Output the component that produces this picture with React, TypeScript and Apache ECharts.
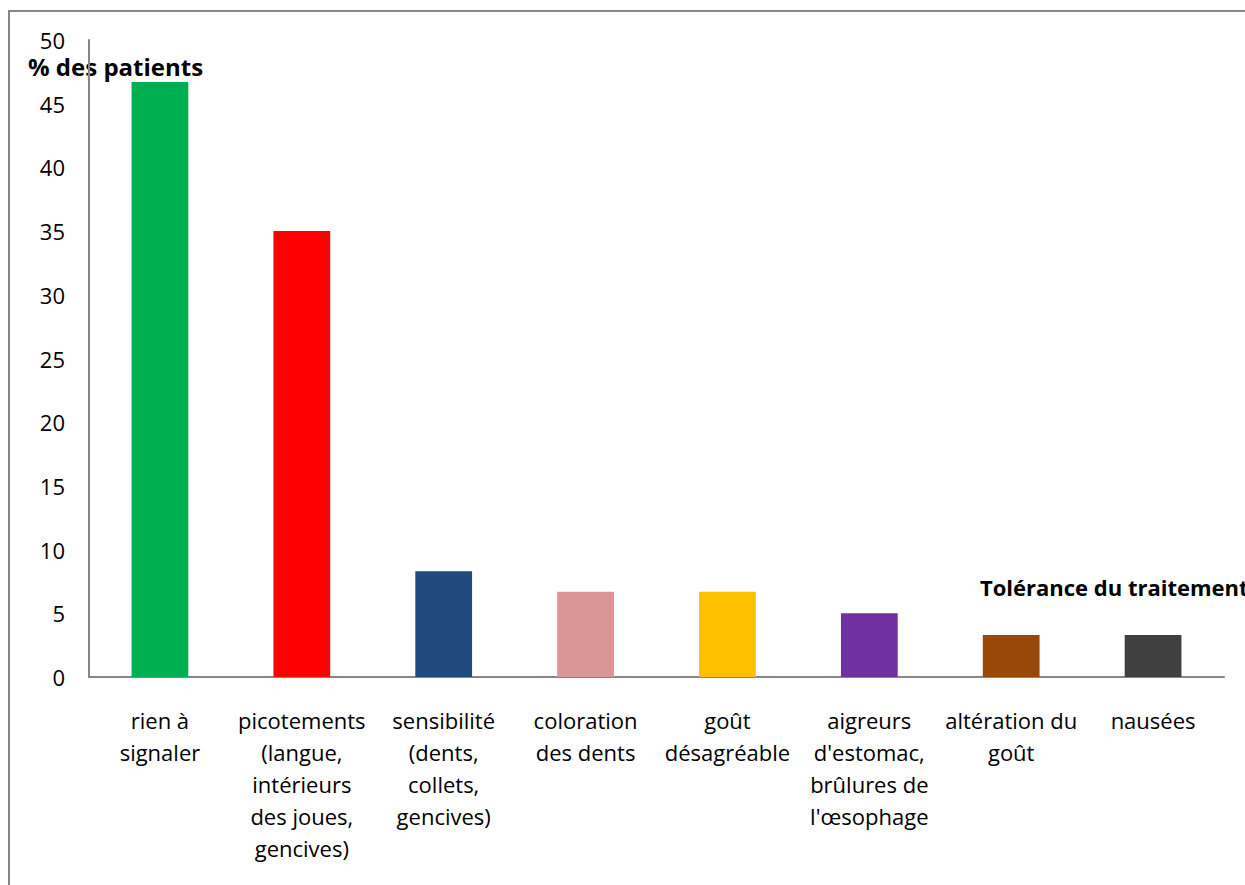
import React, { useEffect, useRef } from "react";
import * as echarts from "echarts";

const categories = [
  "rien à\nsignaler",
  "picotements\n(langue,\nintérieurs\ndes joues,\ngencives)",
  "sensibilité\n(dents,\ncollets,\ngencives)",
  "coloration\ndes dents",
  "goût\ndésagréable",
  "aigreurs\nd'estomac,\nbrûlures de\nl'œsophage",
  "altération du\ngoût",
  "nausées",
];
const values = [46.7, 35.0, 8.3, 6.7, 6.7, 5.0, 3.3, 3.3];
const colors = ["#00B050", "#FF0000", "#1F497D", "#D99694", "#FFC000", "#7030A0", "#984807", "#404040"];
const yTicks = [0, 5, 10, 15, 20, 25, 30, 35, 40, 45, 50];

const FONT = "'Open Sans', Lato, sans-serif";

export default function App() {
  const ref = useRef<HTMLDivElement>(null);
  useEffect(() => {
    const chart = echarts.init(ref.current!, null, { renderer: "svg" });
    chart.setOption({
      animation: false,
      backgroundColor: "#ffffff",
      grid: { left: 89, right: 21, top: 40, bottom: 208, containLabel: false },
      xAxis: {
        type: "category",
        data: categories,
        axisLine: { lineStyle: { color: "#868686", width: 2 } },
        axisTick: { show: false },
        axisLabel: {
          interval: 0,
          margin: 27,
          color: "#000",
          fontFamily: FONT,
          fontSize: 22,
          lineHeight: 32,
          align: "center",
        },
      },
      yAxis: {
        type: "value",
        min: yTicks[0],
        max: yTicks[yTicks.length - 1],
        interval: 5,
        axisLine: { show: true, lineStyle: { color: "#868686", width: 2 } },
        axisTick: { show: false },
        splitLine: { show: false },
        axisLabel: { margin: 24, color: "#000", fontFamily: FONT, fontSize: 22 },
      },
      graphic: [
        {
          type: "rect",
          shape: { x: 9, y: 11, width: 1300, height: 1000 },
          style: { fill: "none", stroke: "#868686", lineWidth: 2 },
          silent: true,
        },
        {
          type: "text",
          left: 28,
          top: 54,
          style: { text: "% des patients", font: `bold 24px ${FONT}`, fill: "#000" },
        },
        {
          type: "text",
          left: 980,
          top: 576,
          style: { text: "Tolérance du traitement", font: `bold 22px ${FONT}`, fill: "#000" },
        },
      ],
      series: [
        {
          type: "bar",
          barWidth: "40%",
          data: values.map((v, i) => ({ value: v, itemStyle: { color: colors[i] } })),
        },
      ],
    });
    return () => chart.dispose();
  }, []);
  return (
    <div
      ref={ref}
      style={{ position: "fixed", left: 0, top: 0, width: 1245, height: 885 }}
    />
  );
}
